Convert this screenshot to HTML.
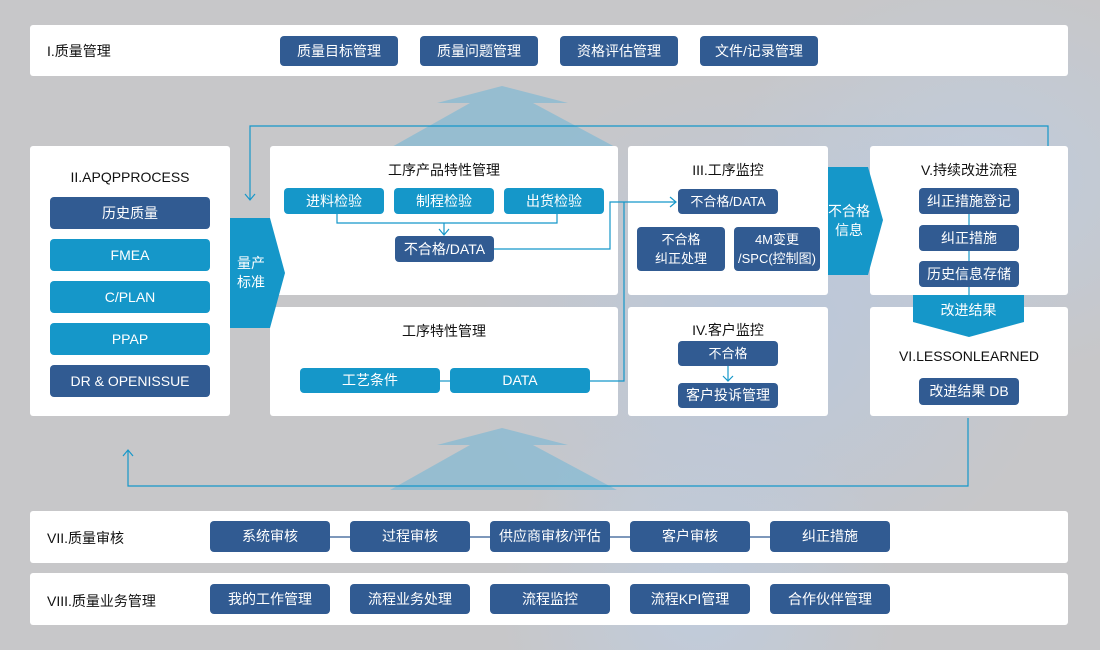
<!DOCTYPE html>
<html><head><meta charset="utf-8"><style>
*{margin:0;padding:0;box-sizing:border-box}
body{width:1100px;height:650px;position:relative;overflow:hidden;font-family:"Liberation Sans","Noto Sans CJK SC",sans-serif;background:#c7c7c9}
.bg{position:absolute;inset:0;background:radial-gradient(ellipse 300px 260px at 760px 330px,rgba(185,200,222,.9),rgba(199,199,201,0) 100%),radial-gradient(ellipse 260px 200px at 980px 180px,rgba(190,205,225,.8),rgba(199,199,201,0) 100%),radial-gradient(ellipse 200px 200px at 700px 600px,rgba(190,205,225,.8),rgba(199,199,201,0) 100%)}
.p{position:absolute;background:#fff;border-radius:3px}
.b{position:absolute;color:#fff;font-size:14px;display:flex;align-items:center;justify-content:center;text-align:center;border-radius:4px;line-height:19px}
.d{background:#315b92}
.l{background:#1597c9}
.t{position:absolute;font-size:14px;color:#111;white-space:nowrap}
.c{text-align:center}
svg{position:absolute;left:0;top:0}
</style></head><body>
<div class="bg"></div>
<svg width="1100" height="650">
<polygon points="502,86 568,103 533,103 617,148 390,148 470,103 437,103" fill="rgba(125,185,212,.65)"/>
<polygon points="502,428 568,445 533,445 617,490 390,490 470,445 437,445" fill="rgba(125,185,212,.65)"/>
</svg>
<div class="p" style="left:30px;top:25px;width:1038px;height:51px"></div>
<div class="t" style="left:47px;top:41px">I.质量管理</div>
<div class="b d" style="left:280px;top:36px;width:118px;height:30px">质量目标管理</div>
<div class="b d" style="left:420px;top:36px;width:118px;height:30px">质量问题管理</div>
<div class="b d" style="left:560px;top:36px;width:118px;height:30px">资格评估管理</div>
<div class="b d" style="left:700px;top:36px;width:118px;height:30px">文件/记录管理</div>

<div class="p" style="left:30px;top:146px;width:200px;height:270px"></div>
<div class="t c" style="left:30px;top:169px;width:200px">II.APQPPROCESS</div>
<div class="b d" style="left:50px;top:197px;width:160px;height:32px">历史质量</div>
<div class="b l" style="left:50px;top:239px;width:160px;height:32px">FMEA</div>
<div class="b l" style="left:50px;top:281px;width:160px;height:32px">C/PLAN</div>
<div class="b l" style="left:50px;top:323px;width:160px;height:32px">PPAP</div>
<div class="b d" style="left:50px;top:365px;width:160px;height:32px">DR &amp; OPENISSUE</div>

<div class="p" style="left:270px;top:146px;width:348px;height:149px"></div>
<div class="t c" style="left:270px;top:160px;width:348px">工序产品特性管理</div>
<div class="b l" style="left:284px;top:188px;width:100px;height:26px">进料检验</div>
<div class="b l" style="left:394px;top:188px;width:100px;height:26px">制程检验</div>
<div class="b l" style="left:504px;top:188px;width:100px;height:26px">出货检验</div>
<div class="b d" style="left:395px;top:236px;width:99px;height:26px">不合格/DATA</div>

<div class="p" style="left:270px;top:307px;width:348px;height:109px"></div>
<div class="t c" style="left:270px;top:321px;width:348px">工序特性管理</div>
<div class="b l" style="left:300px;top:368px;width:140px;height:25px">工艺条件</div>
<div class="b l" style="left:450px;top:368px;width:140px;height:25px">DATA</div>

<div class="p" style="left:628px;top:146px;width:200px;height:149px"></div>
<div class="t c" style="left:628px;top:160px;width:200px">III.工序监控</div>
<div class="b d" style="left:678px;top:189px;width:100px;height:25px;font-size:13px">不合格/DATA</div>
<div class="b d" style="left:637px;top:227px;width:88px;height:44px;font-size:13px">不合格<br>纠正处理</div>
<div class="b d" style="left:734px;top:227px;width:86px;height:44px;font-size:13px">4M变更<br>/SPC(控制图)</div>

<div class="p" style="left:628px;top:307px;width:200px;height:109px"></div>
<div class="t c" style="left:628px;top:320px;width:200px">IV.客户监控</div>
<div class="b d" style="left:678px;top:341px;width:100px;height:25px;font-size:13px">不合格</div>
<div class="b d" style="left:678px;top:383px;width:100px;height:25px">客户投诉管理</div>

<div class="p" style="left:870px;top:146px;width:198px;height:149px"></div>
<div class="t c" style="left:870px;top:160px;width:198px">V.持续改进流程</div>
<div class="p" style="left:870px;top:307px;width:198px;height:109px"></div>
<div class="t c" style="left:870px;top:348px;width:198px">VI.LESSONLEARNED</div>
<div class="b d" style="left:919px;top:378px;width:100px;height:27px">改进结果 DB</div>

<div class="p" style="left:30px;top:511px;width:1038px;height:52px"></div>
<div class="t" style="left:47px;top:528px">VII.质量审核</div>
<div class="p" style="left:30px;top:573px;width:1038px;height:52px"></div>
<div class="t" style="left:47px;top:591px">VIII.质量业务管理</div>

<svg width="1100" height="650">
<g fill="none" stroke="#1597c9" stroke-width="1.2">
<polyline points="250,200 250,126 1048,126 1048,146"/>
<polyline points="245,194 250,200 255,194"/>
<polyline points="968,418 968,486 128,486 128,450"/>
<polyline points="123,456 128,450 133,456"/>
<polyline points="337,214 337,223 557,223 557,214"/>
<polyline points="444,223 444,234"/>
<polyline points="439,229 444,235 449,229"/>
<polyline points="494,249 610,249 610,202 676,202"/>
<polyline points="670,197 676,202 670,207"/>
<polyline points="590,381 624,381 624,202"/>
<line x1="440" y1="381" x2="450" y2="381"/>
<polyline points="728,366 728,381"/>
<polyline points="723,376 728,381 733,376"/>
<line x1="969" y1="214" x2="969" y2="295"/>
</g>
<g stroke="#315b92" stroke-width="1.2"><line x1="330" y1="537" x2="770" y2="537"/></g>
<polygon points="230,218 270,218 285,273 270,328 230,328" fill="#1597c9"/>
<polygon points="828,167 868,167 883,220 868,275 828,275" fill="#1597c9"/>
<polygon points="913,295 1024,295 1024,322 969,337 913,322" fill="#1597c9"/>
</svg>
<div class="t" style="left:237px;top:254px;color:#fff;line-height:19px">量产<br>标准</div>
<div class="t c" style="left:826px;top:202px;width:46px;color:#fff;line-height:19px">不合格<br>信息</div>
<div class="t c" style="left:913px;top:300px;width:111px;color:#fff">改进结果</div>
<div class="b d" style="left:919px;top:188px;width:100px;height:26px">纠正措施登记</div>
<div class="b d" style="left:919px;top:225px;width:100px;height:26px">纠正措施</div>
<div class="b d" style="left:919px;top:261px;width:100px;height:26px">历史信息存储</div>

<div class="b d" style="left:210px;top:521px;width:120px;height:31px">系统审核</div>
<div class="b d" style="left:350px;top:521px;width:120px;height:31px">过程审核</div>
<div class="b d" style="left:490px;top:521px;width:120px;height:31px">供应商审核/评估</div>
<div class="b d" style="left:630px;top:521px;width:120px;height:31px">客户审核</div>
<div class="b d" style="left:770px;top:521px;width:120px;height:31px">纠正措施</div>
<div class="b d" style="left:210px;top:584px;width:120px;height:30px">我的工作管理</div>
<div class="b d" style="left:350px;top:584px;width:120px;height:30px">流程业务处理</div>
<div class="b d" style="left:490px;top:584px;width:120px;height:30px">流程监控</div>
<div class="b d" style="left:630px;top:584px;width:120px;height:30px">流程KPI管理</div>
<div class="b d" style="left:770px;top:584px;width:120px;height:30px">合作伙伴管理</div>
</body></html>
